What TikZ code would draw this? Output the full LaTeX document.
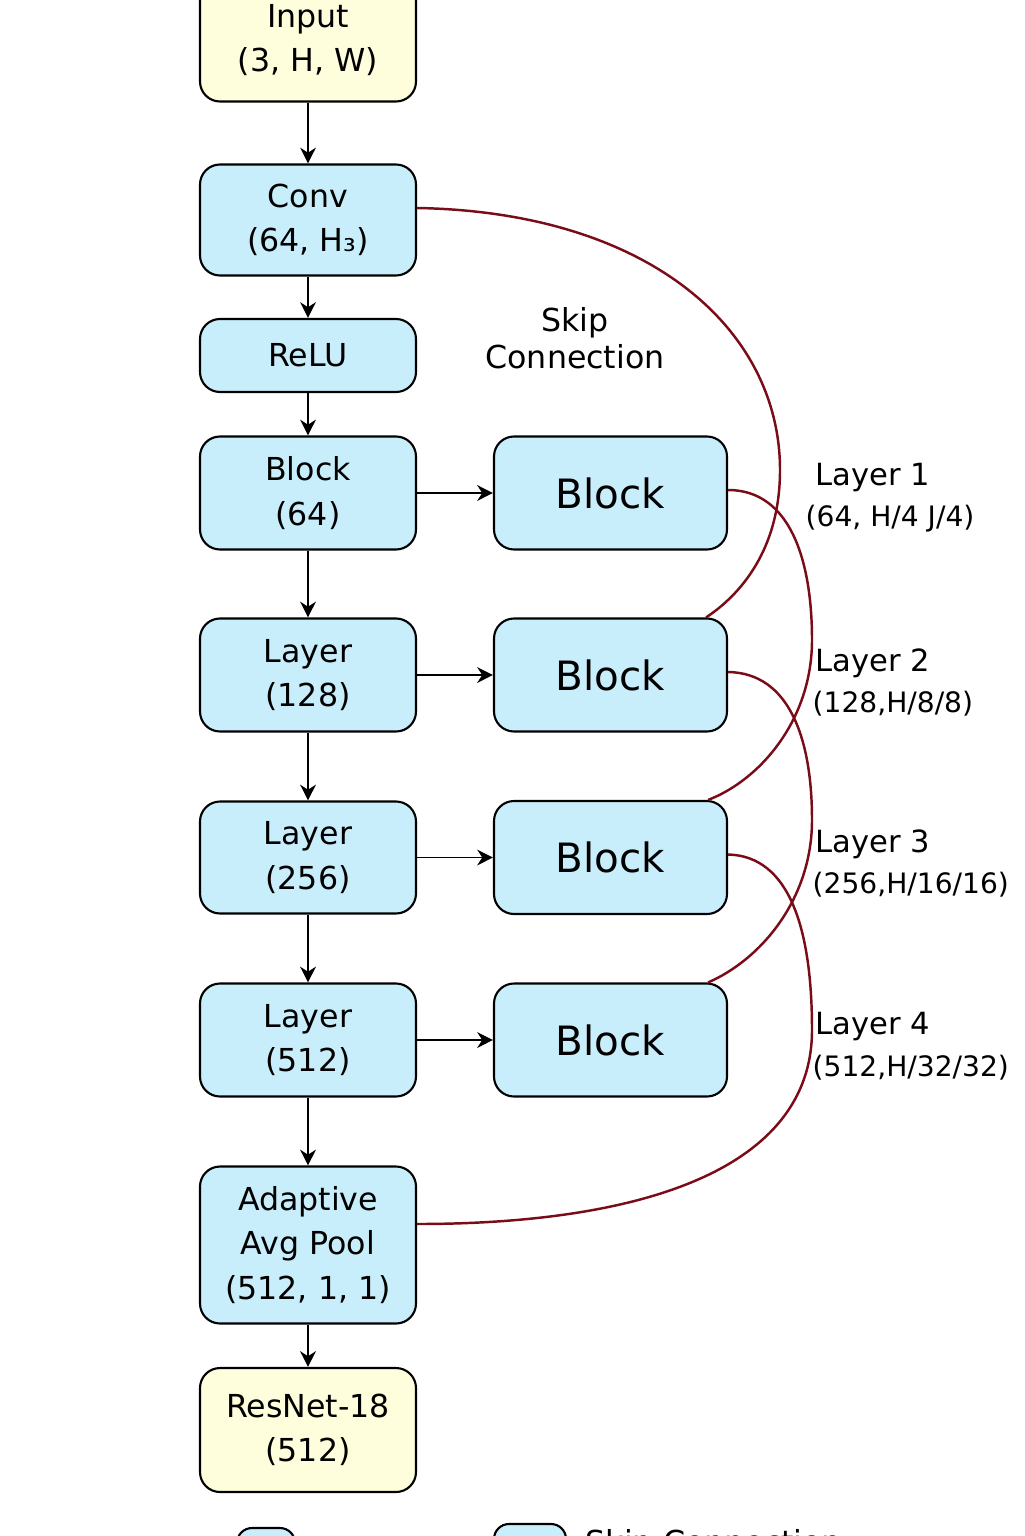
\documentclass[tikz,border=0pt]{standalone}
\usepackage{fontspec}
\setmainfont{DejaVu Sans}
\usepackage{tikz}
\usetikzlibrary{arrows.meta, positioning, calc}
\definecolor{boxblue}{HTML}{C9EEFB}
\definecolor{boxyellow}{HTML}{FEFEDC}
\definecolor{skipred}{HTML}{7A0C18}

\tikzset{
    layerbox/.style={draw, rounded corners=2mm, fill=boxblue, line width=0.6pt, minimum width=2.16cm, align=center, font=\fontsize{9}{12.6}\selectfont},
    iobox/.style={layerbox, fill=boxyellow},
    blockbox/.style={layerbox, minimum width=2.33cm, minimum height=1.13cm, font=\fontsize{11.5}{14}\selectfont},
    skip/.style={draw=skipred, line width=0.7pt},
    lbltop/.style={anchor=base west, inner sep=0pt, font=\fontsize{8.7}{10}\selectfont},
    lblbot/.style={anchor=base west, inner sep=0pt, font=\fontsize{8}{9}\selectfont},
}

\begin{document}
\begin{tikzpicture}[>={Stealth[length=4.5pt, width=4.5pt]}, font=\small]
    \useasboundingbox (0, 0) rectangle (10.24, -15.36);

    % Main column
    \node[iobox, minimum height=1.23cm] (input) at (3.08, -0.4) {Input\\(3, H, W)};
    \node[layerbox, minimum height=1.11cm] (conv) at (3.08, -2.2) {Conv\\(64, H₃)};
    \node[layerbox, minimum height=0.73cm] (relu) at (3.08, -3.555) {ReLU};
    \node[layerbox, minimum height=1.13cm] (block64) at (3.08, -4.93) {Block\\(64)};
    \node[layerbox, minimum height=1.13cm] (layer128) at (3.08, -6.75) {Layer\\(128)};
    \node[layerbox, minimum height=1.12cm] (layer256) at (3.08, -8.575) {Layer\\(256)};
    \node[layerbox, minimum height=1.13cm] (layer512) at (3.08, -10.4) {Layer\\(512)};
    \node[layerbox, minimum height=1.57cm] (pool) at (3.08, -12.45) {Adaptive\\Avg Pool\\(512, 1, 1)};
    \node[iobox, minimum height=1.24cm] (resnet) at (3.08, -14.3) {ResNet-18\\(512)};

    \foreach \a/\b in {input/conv, conv/relu, relu/block64, block64/layer128, layer128/layer256, layer256/layer512, layer512/pool, pool/resnet}{
        \draw[->] (\a) -- (\b);
    }

    % Residual blocks
    \foreach \i/\y in {1/4.93, 2/6.75, 3/8.575, 4/10.4}{
        \node[blockbox] (blk\i) at (6.105, -\y) {Block};
    }
    \foreach \a/\b in {block64/blk1, layer128/blk2, layer256/blk3, layer512/blk4}{
        \draw[->] (\a) -- (\b);
    }

    % Skip connections
    \node[font=\fontsize{9}{10.5}\selectfont, align=center] (skiplbl) at (5.75, -3.385) {Skip\\Connection};
    \draw[skip] ($(conv.east)+(0, 0.12)$) .. controls (6.5, -2.12) and (7.8, -3.3) .. (7.8, -4.7)
        .. controls (7.8, -5.5) and (7.4, -5.95) .. ($(blk2.north east)+(-0.22, 0)$);
    \draw[skip] ($(blk1.east)+(0, 0.03)$) .. controls (7.9, -4.9) and (8.12, -5.6) .. (8.12, -6.4)
        .. controls (8.12, -7.2) and (7.6, -7.8) .. ($(blk3.north east)+(-0.2, 0)$);
    \draw[skip] ($(blk2.east)+(0, 0.03)$) .. controls (7.9, -6.73) and (8.12, -7.4) .. (8.12, -8.2)
        .. controls (8.12, -9.0) and (7.6, -9.6) .. ($(blk4.north east)+(-0.2, 0)$);
    \draw[skip] ($(blk3.east)+(0, 0.03)$) .. controls (7.9, -8.56) and (8.12, -9.3) .. (8.12, -10.3)
        .. controls (8.12, -11.7) and (6.4, -12.24) .. ($(pool.east)+(0, 0.21)$);

    % Layer labels
    \foreach \i/\yt/\yb/\xb/\d in {1/4.85/5.26/8.05/{(64, H/4 J/4)}, 2/6.71/7.12/8.12/{(128,H/8/8)}, 3/8.52/8.93/8.12/{(256,H/16/16)}, 4/10.34/10.76/8.12/{(512,H/32/32)}}{
        \node[lbltop] (lay\i) at (8.15, -\yt) {Layer \i};
        \node[lblbot] (dim\i) at (\xb, -\yb) {\d};
    }

    % Legend (cut off)
    \node[draw, rounded corners=1.5mm, fill=boxblue, line width=0.6pt, minimum width=0.58cm, minimum height=0.4cm] (leg1) at (2.66, -15.48) {};
    \node[draw, rounded corners=1.5mm, fill=boxblue, line width=0.6pt, minimum width=0.72cm, minimum height=0.4cm] (leg2) at (5.3, -15.44) {};
    \node[anchor=base west, inner sep=0pt, font=\fontsize{9}{10}\selectfont] (legtxt) at (5.85, -15.53) {Skip Connection};
\end{tikzpicture}
\end{document}
